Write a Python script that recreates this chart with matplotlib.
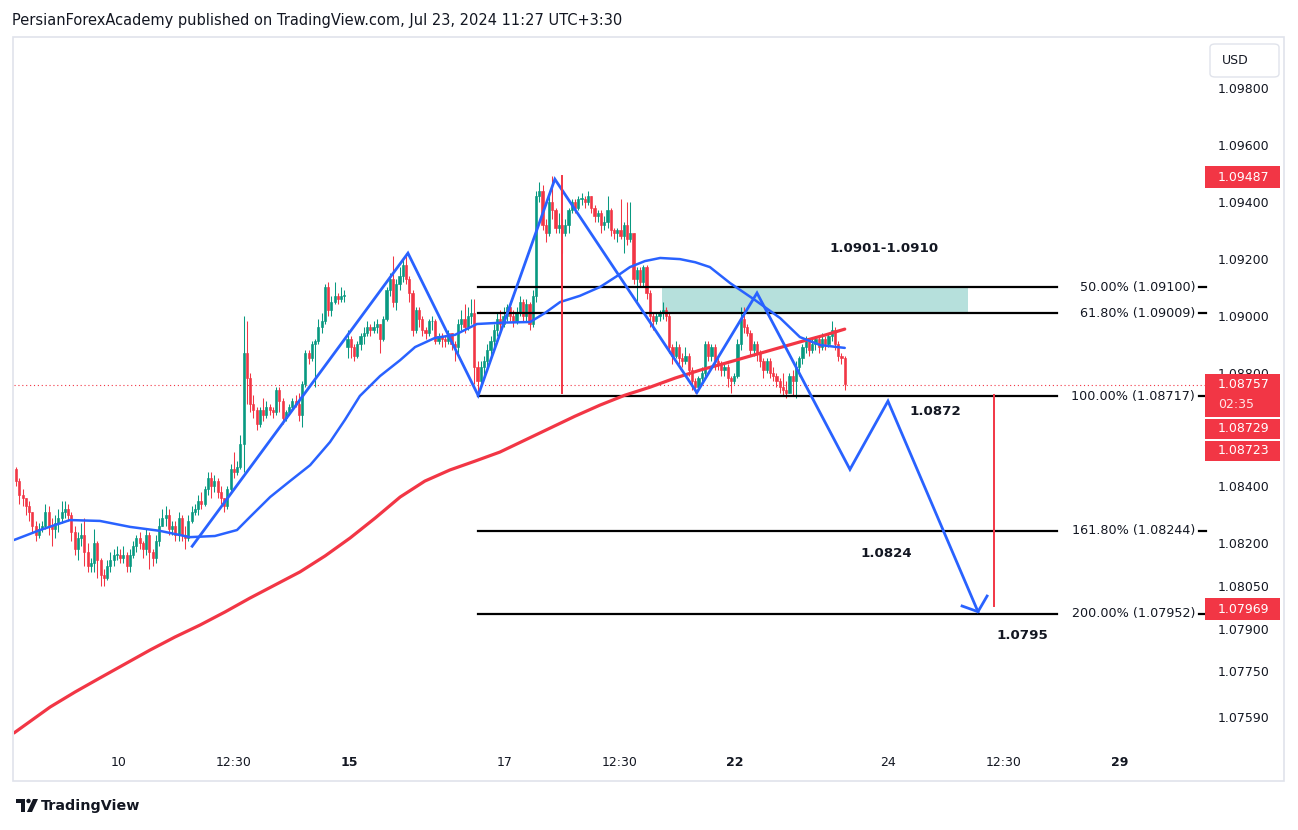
import numpy as np
import matplotlib.pyplot as plt
from matplotlib.patches import Rectangle, FancyBboxPatch, Polygon, Ellipse

plt.rcParams['font.family'] = ['DejaVu Sans']

# EURUSD 1H candles (bar index 0 = first bar on the left)
first_open = 1.0846
gap_opens = {102: 1.0889}  # Monday Jul 15 opens below Friday's close

closes = [
    1.0842, 1.0837, 1.0836, 1.0833, 1.0831, 1.0826, 1.0823, 1.0825, 1.0826, 1.0831,
    1.0826, 1.0825, 1.0827, 1.0829, 1.0831, 1.0832, 1.0830, 1.0824, 1.0818, 1.0822,
    1.0823, 1.0817, 1.0812, 1.0813, 1.0820, 1.0814, 1.0809, 1.0808, 1.0812, 1.0814,
    1.0816, 1.0816, 1.0815, 1.0816, 1.0812, 1.0816, 1.0819, 1.0822, 1.0820, 1.0818,
    1.0823, 1.0817, 1.0815, 1.0821, 1.0826, 1.0829, 1.0830, 1.0825, 1.0826, 1.0823,
    1.0829, 1.0823, 1.0822, 1.0828, 1.0831, 1.0832, 1.0835, 1.0834, 1.0839, 1.0843,
    1.0840, 1.0842, 1.0838, 1.0836, 1.0833, 1.0839, 1.0846, 1.0845, 1.0847, 1.0855,
    1.0887, 1.0878, 1.0869, 1.0867, 1.0862, 1.0867, 1.0865, 1.0868, 1.0867, 1.0866,
    1.0874, 1.0870, 1.0864, 1.0866, 1.0868, 1.0870, 1.0869, 1.0865, 1.0876, 1.0887,
    1.0885, 1.0890, 1.0891, 1.0896, 1.0898, 1.0910, 1.0902, 1.0905, 1.0907, 1.0906,
    1.0907, 1.0907, 1.0892, 1.0889, 1.0886, 1.0890, 1.0893, 1.0894, 1.0896, 1.0895,
    1.0896, 1.0897, 1.0892, 1.0899, 1.0909, 1.0913, 1.0905, 1.0911, 1.0914, 1.0918,
    1.0913, 1.0908, 1.0895, 1.0902, 1.0899, 1.0895, 1.0894, 1.0898, 1.0898, 1.0891,
    1.0893, 1.0892, 1.0891, 1.0894, 1.0890, 1.0889, 1.0897, 1.0899, 1.0896, 1.0900,
    1.0901, 1.0882, 1.0877, 1.0882, 1.0884, 1.0888, 1.0891, 1.0895, 1.0899, 1.0897,
    1.0900, 1.0903, 1.0900, 1.0898, 1.0901, 1.0905, 1.0900, 1.0904, 1.0897, 1.0907,
    1.0942, 1.0944, 1.0932, 1.0929, 1.0940, 1.0937, 1.0931, 1.0932, 1.0929, 1.0932,
    1.0937, 1.0940, 1.0938, 1.0941, 1.0941, 1.0940, 1.0942, 1.0938, 1.0935, 1.0936,
    1.0932, 1.0933, 1.0937, 1.0930, 1.0929, 1.0930, 1.0928, 1.0932, 1.0927, 1.0929,
    1.0913, 1.0916, 1.0912, 1.0917, 1.0908, 1.0900, 1.0898, 1.0900, 1.0901, 1.0902,
    1.0900, 1.0889, 1.0886, 1.0889, 1.0885, 1.0884, 1.0886, 1.0881, 1.0877, 1.0875,
    1.0878, 1.0880, 1.0890, 1.0886, 1.0889, 1.0884, 1.0883, 1.0881, 1.0882, 1.0878,
    1.0877, 1.0879, 1.0890, 1.0899, 1.0896, 1.0894, 1.0888, 1.0890, 1.0887, 1.0884,
    1.0881, 1.0884, 1.0880, 1.0879, 1.0877, 1.0875, 1.0874, 1.0873, 1.0879, 1.0877,
    1.0882, 1.0885, 1.0889, 1.0891, 1.0888, 1.0890, 1.0892, 1.0889, 1.0892, 1.0890,
    1.0893, 1.0895, 1.0890, 1.0886, 1.0885, 1.0876,
]
highs = [
    1.0847, 1.0843, 1.0839, 1.0836, 1.0835, 1.0831, 1.0828, 1.0827, 1.0828, 1.0834,
    1.0833, 1.0829, 1.0830, 1.0832, 1.0835, 1.0835, 1.0834, 1.0831, 1.0826, 1.0824,
    1.0827, 1.0829, 1.0820, 1.0815, 1.0825, 1.0821, 1.0815, 1.0811, 1.0814, 1.0817,
    1.0818, 1.0819, 1.0818, 1.0819, 1.0817, 1.0818, 1.0821, 1.0823, 1.0824, 1.0821,
    1.0825, 1.0824, 1.0818, 1.0823, 1.0829, 1.0832, 1.0833, 1.0832, 1.0828, 1.0828,
    1.0831, 1.0830, 1.0826, 1.0830, 1.0833, 1.0834, 1.0837, 1.0838, 1.0840, 1.0845,
    1.0845, 1.0844, 1.0843, 1.0840, 1.0836, 1.0840, 1.0848, 1.0852, 1.0849, 1.0858,
    1.0900, 1.0898, 1.0880, 1.0872, 1.0868, 1.0868, 1.0871, 1.0870, 1.0869, 1.0868,
    1.0875, 1.0875, 1.0871, 1.0867, 1.0869, 1.0871, 1.0872, 1.0873, 1.0877, 1.0888,
    1.0888, 1.0891, 1.0892, 1.0899, 1.0901, 1.0911, 1.0912, 1.0907, 1.0912, 1.0908,
    1.0910, 1.0909, 1.0895, 1.0893, 1.0890, 1.0891, 1.0894, 1.0896, 1.0898, 1.0897,
    1.0898, 1.0899, 1.0897, 1.0900, 1.0910, 1.0915, 1.0921, 1.0913, 1.0917, 1.0920,
    1.0922, 1.0914, 1.0909, 1.0903, 1.0903, 1.0900, 1.0896, 1.0899, 1.0900, 1.0899,
    1.0894, 1.0894, 1.0893, 1.0895, 1.0894, 1.0891, 1.0899, 1.0902, 1.0904, 1.0903,
    1.0906, 1.0906, 1.0884, 1.0884, 1.0886, 1.0890, 1.0893, 1.0897, 1.0901, 1.0902,
    1.0903, 1.0904, 1.0905, 1.0902, 1.0903, 1.0907, 1.0906, 1.0906, 1.0905, 1.0909,
    1.0944, 1.0947, 1.0946, 1.0934, 1.0942, 1.0949, 1.0938, 1.0936, 1.0934, 1.0934,
    1.0938, 1.0941, 1.0941, 1.0942, 1.0943, 1.0942, 1.0944, 1.0942, 1.0939, 1.0937,
    1.0937, 1.0935, 1.0942, 1.0938, 1.0931, 1.0931, 1.0941, 1.0933, 1.0940, 1.0940,
    1.0929, 1.0917, 1.0917, 1.0918, 1.0918, 1.0909, 1.0901, 1.0901, 1.0902, 1.0905,
    1.0903, 1.0901, 1.0890, 1.0891, 1.0890, 1.0887, 1.0889, 1.0887, 1.0882, 1.0878,
    1.0879, 1.0882, 1.0891, 1.0891, 1.0890, 1.0890, 1.0886, 1.0884, 1.0883, 1.0883,
    1.0879, 1.0880, 1.0892, 1.0903, 1.0903, 1.0897, 1.0895, 1.0891, 1.0891, 1.0888,
    1.0885, 1.0885, 1.0885, 1.0882, 1.0880, 1.0878, 1.0880, 1.0877, 1.0880, 1.0881,
    1.0884, 1.0886, 1.0890, 1.0893, 1.0892, 1.0892, 1.0893, 1.0893, 1.0894, 1.0893,
    1.0894, 1.0898, 1.0896, 1.0891, 1.0887, 1.0886,
]
lows = [
    1.0840, 1.0834, 1.0833, 1.0830, 1.0828, 1.0824, 1.0821, 1.0822, 1.0824, 1.0825,
    1.0823, 1.0819, 1.0822, 1.0824, 1.0827, 1.0829, 1.0828, 1.0821, 1.0816, 1.0814,
    1.0819, 1.0812, 1.0810, 1.0810, 1.0810, 1.0808, 1.0805, 1.0805, 1.0807, 1.0810,
    1.0812, 1.0814, 1.0813, 1.0813, 1.0810, 1.0810, 1.0815, 1.0817, 1.0818, 1.0815,
    1.0816, 1.0811, 1.0812, 1.0813, 1.0819, 1.0826, 1.0826, 1.0823, 1.0823, 1.0821,
    1.0821, 1.0821, 1.0818, 1.0821, 1.0827, 1.0830, 1.0830, 1.0832, 1.0833, 1.0837,
    1.0836, 1.0838, 1.0836, 1.0834, 1.0831, 1.0832, 1.0838, 1.0843, 1.0844, 1.0846,
    1.0845, 1.0869, 1.0866, 1.0864, 1.0860, 1.0861, 1.0863, 1.0864, 1.0865, 1.0864,
    1.0865, 1.0866, 1.0862, 1.0863, 1.0865, 1.0867, 1.0868, 1.0863, 1.0861, 1.0875,
    1.0883, 1.0884, 1.0875, 1.0890, 1.0894, 1.0897, 1.0900, 1.0900, 1.0904, 1.0904,
    1.0905, 1.0905, 1.0885, 1.0885, 1.0884, 1.0885, 1.0888, 1.0890, 1.0893, 1.0893,
    1.0894, 1.0894, 1.0887, 1.0891, 1.0898, 1.0907, 1.0903, 1.0902, 1.0909, 1.0912,
    1.0911, 1.0905, 1.0893, 1.0894, 1.0896, 1.0893, 1.0892, 1.0893, 1.0895, 1.0890,
    1.0890, 1.0889, 1.0889, 1.0890, 1.0888, 1.0884, 1.0887, 1.0895, 1.0894, 1.0895,
    1.0897, 1.0876, 1.0872, 1.0875, 1.0879, 1.0882, 1.0886, 1.0889, 1.0893, 1.0895,
    1.0896, 1.0898, 1.0898, 1.0896, 1.0897, 1.0900, 1.0898, 1.0898, 1.0895, 1.0896,
    1.0905, 1.0940, 1.0930, 1.0926, 1.0928, 1.0934, 1.0929, 1.0929, 1.0922, 1.0928,
    1.0929, 1.0936, 1.0936, 1.0937, 1.0939, 1.0938, 1.0939, 1.0936, 1.0933, 1.0933,
    1.0929, 1.0930, 1.0931, 1.0928, 1.0927, 1.0926, 1.0927, 1.0922, 1.0925, 1.0926,
    1.0911, 1.0905, 1.0910, 1.0910, 1.0906, 1.0896, 1.0895, 1.0897, 1.0898, 1.0899,
    1.0898, 1.0887, 1.0883, 1.0885, 1.0883, 1.0882, 1.0883, 1.0879, 1.0874, 1.0873,
    1.0874, 1.0876, 1.0879, 1.0884, 1.0884, 1.0881, 1.0881, 1.0879, 1.0879, 1.0875,
    1.0873, 1.0876, 1.0878, 1.0888, 1.0894, 1.0893, 1.0886, 1.0886, 1.0884, 1.0882,
    1.0878, 1.0880, 1.0878, 1.0877, 1.0875, 1.0873, 1.0872, 1.0871, 1.0873, 1.0872,
    1.0871, 1.0879, 1.0883, 1.0887, 1.0886, 1.0887, 1.0888, 1.0887, 1.0888, 1.0888,
    1.0889, 1.0891, 1.0888, 1.0884, 1.0883, 1.0874,
]

# moving averages (values read at a handful of bars)
ma_blue_x = [-0.6, 7.4, 16.6, 25.8, 35.1, 44.3, 53.5, 61.2, 68.0, 72.0, 78.2, 84.3,
             90.5, 96.6, 101.2, 105.8, 112.0, 118.2, 122.8, 128.9, 135.1, 141.8,
             150.0, 158.2, 162.8, 167.4, 173.5, 179.7, 185.0, 188.9, 193.5, 198.2,
             204.3, 209.0, 213.5, 219.7, 227.4, 235.1, 241.2, 247.4, 255.0]
ma_blue_p = [1.08212, 1.08247, 1.08282, 1.08279, 1.08258, 1.08244, 1.08222, 1.08226,
             1.08247, 1.08293, 1.08363, 1.08419, 1.08475, 1.08556, 1.08634, 1.08718,
             1.08788, 1.08844, 1.08890, 1.08922, 1.08933, 1.08971, 1.08976, 1.08978,
             1.09010, 1.09048, 1.09070, 1.09101, 1.09140, 1.09171, 1.09192, 1.09203,
             1.09199, 1.09188, 1.09171, 1.09115, 1.09055, 1.08992, 1.08925, 1.08897,
             1.08887]
ma_red_x = [-0.6, 10.5, 18.2, 25.8, 33.5, 41.2, 48.9, 56.6, 64.3, 72.0, 79.7, 87.4,
            95.1, 102.8, 110.5, 118.2, 125.8, 133.5, 141.2, 148.9, 156.6, 164.3,
            172.0, 179.7, 187.4, 195.1, 202.8, 210.5, 218.2, 225.8, 233.5, 241.2,
            248.9, 255.0]
ma_red_p = [1.07534, 1.07625, 1.07678, 1.07727, 1.07776, 1.07825, 1.07871, 1.07913,
            1.07959, 1.08008, 1.08054, 1.08100, 1.08156, 1.08219, 1.08289, 1.08363,
            1.08419, 1.08458, 1.08489, 1.08521, 1.08563, 1.08605, 1.08647, 1.08686,
            1.08721, 1.08749, 1.08781, 1.08809, 1.08833, 1.08858, 1.08883, 1.08908,
            1.08932, 1.08953]

# hand drawn zigzag / projection path
zig_x = [54.2, 120.6, 142.2, 165.8, 209.5, 228.0, 256.6, 268.3, 296.0]
zig_p = [1.0819, 1.0922, 1.0872, 1.0948, 1.0873, 1.0908, 1.0846, 1.0870, 1.0796]
arrow_x = [291.1, 296.0, 298.8]
arrow_p = [1.0798, 1.0796, 1.08015]

# fibonacci extension
fib_names = ['50.00%', '61.80%', '100.00%', '161.80%', '200.00%']
fib_levels = [1.09100, 1.09009, 1.08717, 1.08244, 1.07952]
fib_x0, fib_x1 = 142.2, 320.3
zone_x0, zone_x1 = 198.8, 292.9
zone_lo, zone_hi = 1.09009, 1.09100

red_lines_x = [168.0, 300.9]
red_lines_top = [1.0949, 1.0872]
red_lines_bot = [1.0873, 1.0798]

notes = ['1.0901-1.0910', '1.0872', '1.0824', '1.0795']
notes_x = [267.0, 283.0, 267.7, 309.5]
notes_p = [1.09238, 1.08662, 1.08166, 1.07875]

tick_pos = [31.7, 67.1, 102.5, 150.2, 185.8, 221.2, 268.3, 304.0, 339.7]
tick_text = ['10', '12:30', '15', '17', '12:30', '22', '24', '12:30', '29']
bold_ticks = {'15', '22', '29'}
price_ticks = [1.0980, 1.0960, 1.0940, 1.0920, 1.0900, 1.0880,
               1.0840, 1.0820, 1.0805, 1.0790, 1.0775, 1.0759]

last_price = 1.08757
high_price = 1.09487
target_price = 1.07969

GREEN = '#089981'
RED = '#F23645'
BLUE = '#2962FF'
TXT = '#131722'

W, H = 1298, 830
fig = plt.figure(figsize=(W / 100, H / 100), dpi=100)


def fx(px):
    return px / W


def fy(py):
    return 1 - py / H


ax = fig.add_axes([fx(14), fy(748), fx(1205) - fx(14), fy(40) - fy(748)])
ax.set_xlim(-0.62, 365.85)
ax.set_ylim(1.07481, 1.09969)
for s in ax.spines.values():
    s.set_visible(False)

# candles
c = np.array(closes)
o = np.r_[first_open, c[:-1]]
for k, v in gap_opens.items():
    o[k] = v
h = np.maximum(np.array(highs), np.maximum(o, c))
l = np.minimum(np.array(lows), np.minimum(o, c))
idx = np.arange(len(c))
cols = np.where(c >= o, GREEN, RED)
ax.vlines(idx, l, h, colors=cols, lw=0.75, zorder=2)
body = np.maximum(np.abs(c - o), 0.00003)
ax.bar(idx, body, bottom=np.minimum(o, c), width=0.62, color=cols,
       edgecolor=cols, lw=0.45, zorder=2)

# zone + fib levels
ax.add_patch(Rectangle((zone_x0, zone_lo), zone_x1 - zone_x0, zone_hi - zone_lo,
                       facecolor='#B2DFDB', edgecolor='none', alpha=0.95, zorder=1.5))
for name, lvl in zip(fib_names, fib_levels):
    ax.plot([fib_x0, fib_x1], [lvl, lvl], color='black', lw=1.6, zorder=3)
    ax.text(362.8, lvl, f'{name} ({lvl:.5f})', ha='right', va='center',
            fontsize=9.2, color=TXT, zorder=5)
    ax.plot([364.0, 366.3], [lvl, lvl], color='black', lw=1.6, clip_on=False, zorder=5)

# moving averages
ax.plot(ma_red_x, ma_red_p, color=RED, lw=2.3, solid_capstyle='round',
        solid_joinstyle='round', zorder=3)
ax.plot(ma_blue_x, ma_blue_p, color=BLUE, lw=1.8, solid_capstyle='round',
        solid_joinstyle='round', zorder=3)

# drawings
ax.plot(zig_x, zig_p, color=BLUE, lw=2.0, solid_joinstyle='miter', zorder=4)
ax.plot(arrow_x, arrow_p, color=BLUE, lw=2.0, zorder=4)
for xv, top, bot in zip(red_lines_x, red_lines_top, red_lines_bot):
    ax.plot([xv, xv], [bot, top], color=RED, lw=1.4, zorder=4)
ax.axhline(last_price, color=RED, lw=0.8, ls=(0, (1, 2.5)), zorder=1)

for t, xv, pv in zip(notes, notes_x, notes_p):
    ax.text(xv, pv, t, ha='center', va='center', fontsize=9.6,
            fontweight='bold', color=TXT, zorder=5)

# axes
ax.yaxis.tick_right()
ax.set_yticks(price_ticks)
ax.set_yticklabels([f'{p:.5f}' for p in price_ticks])
ax.tick_params(axis='y', length=0, pad=9.4, labelsize=9, labelcolor=TXT)
ax.set_xticks(tick_pos)
ax.set_xticklabels(tick_text)
ax.tick_params(axis='x', length=0, pad=5.5, labelsize=9, labelcolor=TXT)
for lbl in ax.get_xticklabels():
    if lbl.get_text() in bold_ticks:
        lbl.set_fontweight('bold')

# panel frame + header
fig.patches.append(Rectangle((fx(13), fy(781)), fx(1284) - fx(13), fy(37) - fy(781),
                             transform=fig.transFigure, fill=False,
                             edgecolor='#E0E3EB', lw=1.2))
fig.text(fx(12), fy(21), 'PersianForexAcademy published on TradingView.com, Jul 23, 2024 11:27 UTC+3:30',
         fontsize=10.5, color=TXT, va='center', ha='left')

# currency box
fig.patches.append(FancyBboxPatch((fx(1210), fy(77)), fx(1279) - fx(1210), fy(44) - fy(77),
                                  boxstyle='round,pad=0,rounding_size=0.004',
                                  transform=fig.transFigure, facecolor='white',
                                  edgecolor='#E0E3EB', lw=1))
fig.text(fx(1222), fy(60.5), 'USD', fontsize=9, color=TXT, va='center', ha='left')


# price badges on the scale
def price_py(p):
    return H - ax.transData.transform((0, p))[1]


def badge(top, bot):
    fig.patches.append(Rectangle((fx(1205), fy(bot)), fx(1280) - fx(1205), fy(top) - fy(bot),
                                 transform=fig.transFigure, facecolor=RED,
                                 edgecolor='none', zorder=2))


yh = price_py(high_price)
badge(yh - 11, yh + 11)
fig.text(fx(1218), fy(yh), f'{high_price:.5f}', color='white', fontsize=9, va='center', zorder=3)

yl = price_py(last_price)
badge(yl - 11, yl + 32)
fig.text(fx(1218), fy(yl), f'{last_price:.5f}', color='white', fontsize=9, va='center', zorder=3)
fig.text(fx(1218), fy(yl + 20), '02:35', color='#FFE5E7', fontsize=9, va='center', zorder=3)
for dy, val in [(44, '1.08729'), (66, '1.08723')]:
    badge(yl + dy - 10, yl + dy + 10)
    fig.text(fx(1218), fy(yl + dy), val, color='white', fontsize=9, va='center', zorder=3)

yt = price_py(target_price)
badge(yt - 11, yt + 11)
fig.text(fx(1218), fy(yt), f'{target_price:.5f}', color='white', fontsize=9, va='center', zorder=3)

# footer logo
logo = '#131722'
fig.patches.append(Polygon([(fx(16), fy(799)), (fx(25), fy(799)), (fx(25), fy(812)),
                            (fx(20.5), fy(812)), (fx(20.5), fy(803)), (fx(16), fy(803))],
                           closed=True, transform=fig.transFigure, facecolor=logo, edgecolor='none'))
fig.patches.append(Ellipse((fx(28.5), fy(801)), fx(4.4), 4.4 / H,
                           transform=fig.transFigure, facecolor=logo, edgecolor='none'))
fig.patches.append(Polygon([(fx(27), fy(812)), (fx(32), fy(812)), (fx(38), fy(799)), (fx(33), fy(799))],
                           closed=True, transform=fig.transFigure, facecolor=logo, edgecolor='none'))
fig.text(fx(41), fy(806), 'TradingView', fontsize=10.3, fontweight='semibold', color=TXT,
         va='center', ha='left')

fig.savefig('out.png', dpi=100, facecolor='white')
